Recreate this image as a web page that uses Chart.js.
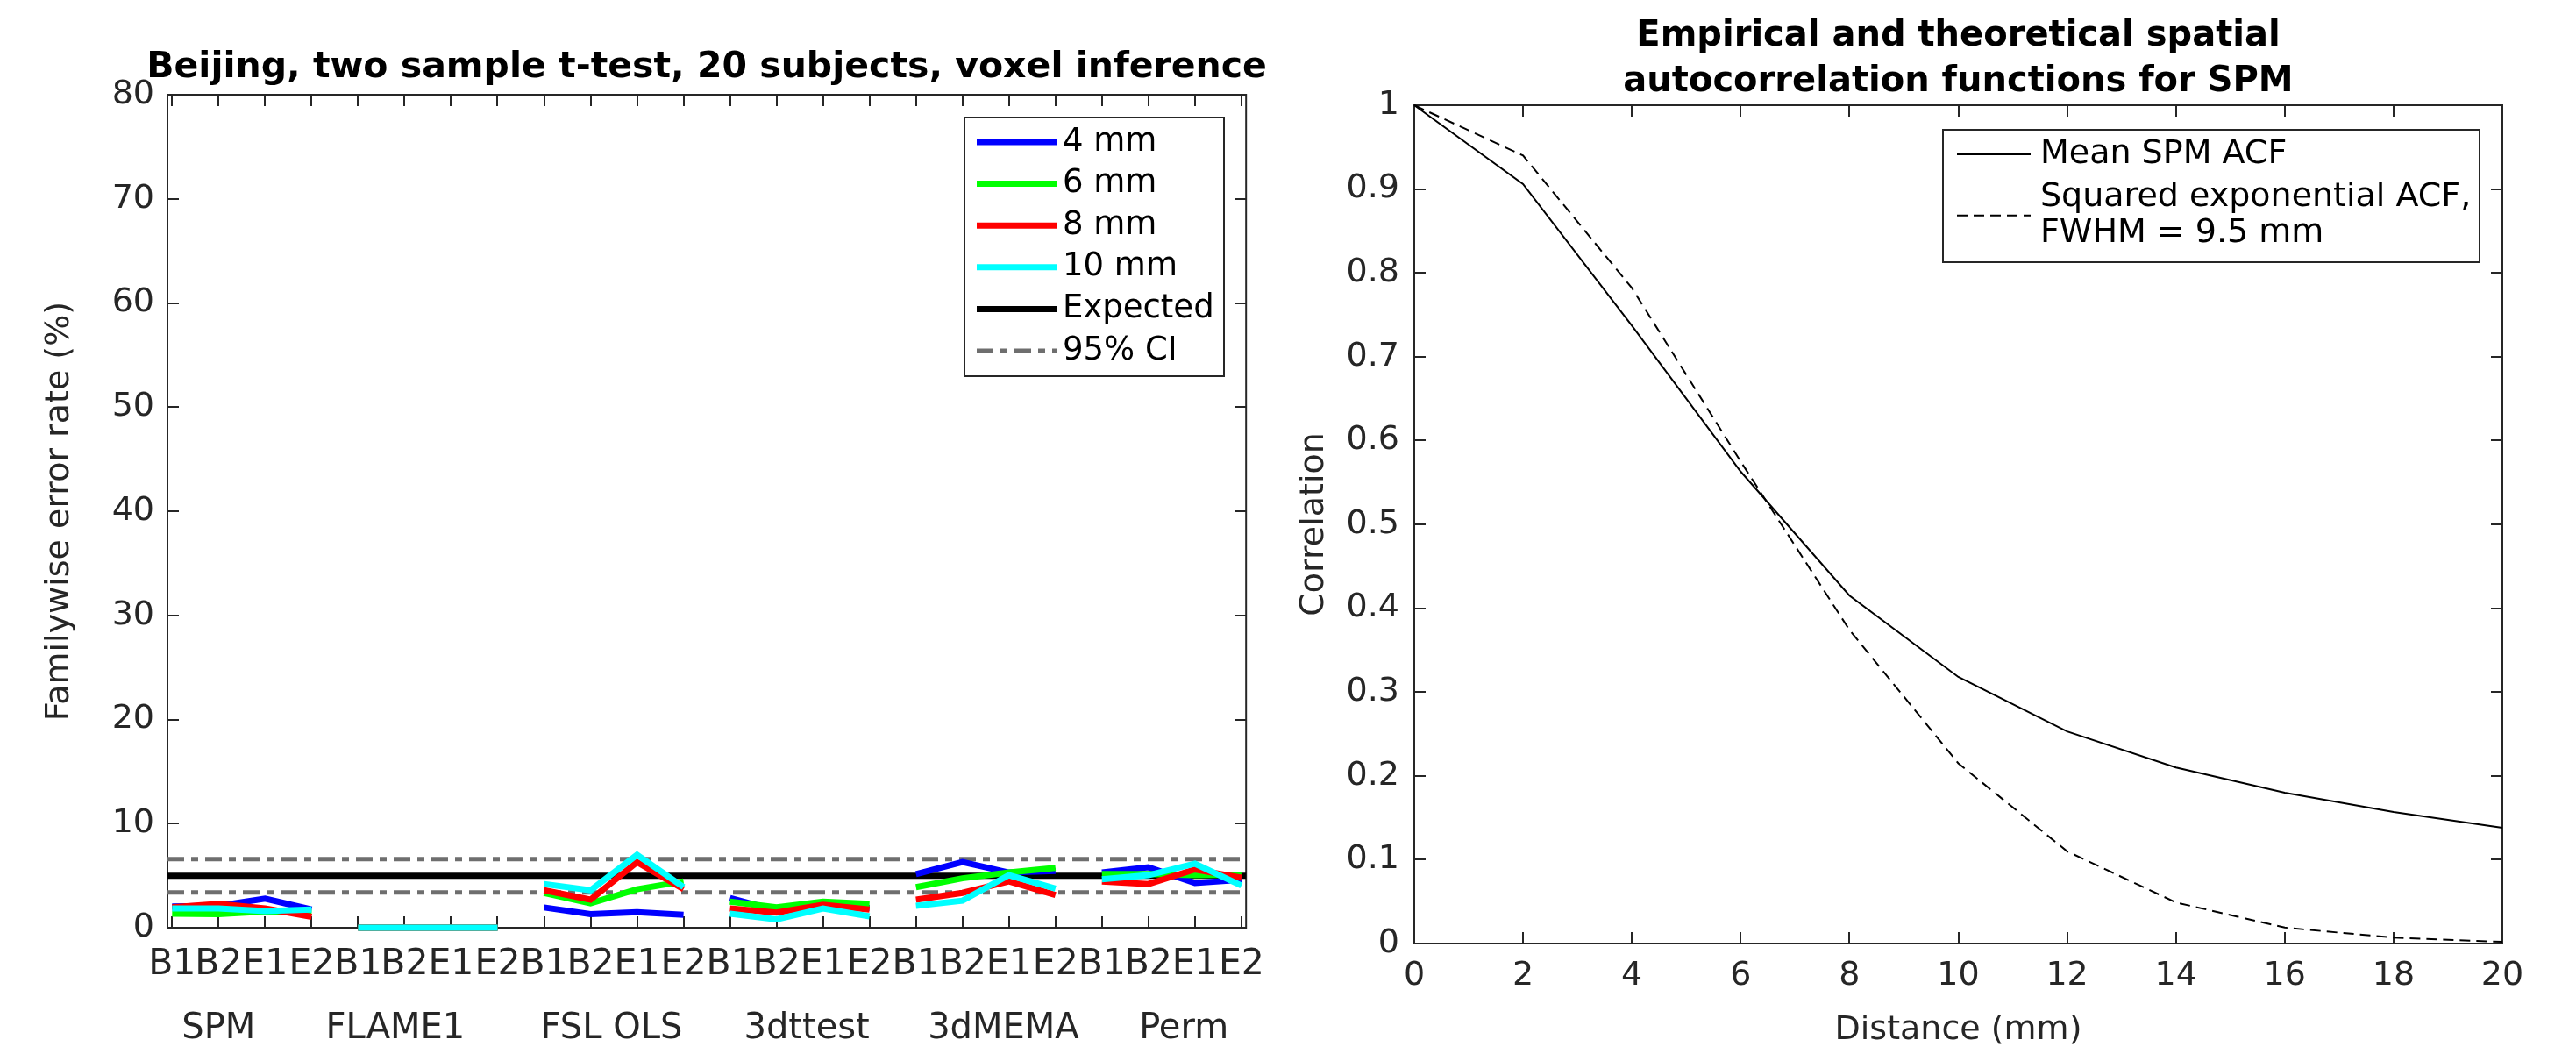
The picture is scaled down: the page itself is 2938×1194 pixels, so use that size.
<!DOCTYPE html>
<html>
<head>
<meta charset="utf-8">
<title>Familywise error rates and spatial ACF</title>
<script src="https://cdn.jsdelivr.net/npm/chart.js@4.4.1/dist/chart.umd.min.js"></script>
<style>
html, body { margin: 0; padding: 0; background: #fff; }
body { width: 2938px; height: 1194px; position: relative; overflow: hidden; }
canvas { position: absolute; top: 0; }
#fwe { left: 0; }
#acf { left: 1460px; }
</style>
</head>
<body>
<canvas id="fwe" width="1460" height="1194"></canvas>
<canvas id="acf" width="1478" height="1194"></canvas>
<script>
// left panel: Beijing, two sample t-test, 20 subjects, voxel inference
const groups = ['SPM', 'FLAME1', 'FSL OLS', '3dttest', '3dMEMA', 'Perm'];
const conditions = ['B1', 'B2', 'E1', 'E2'];
const smoothing = ['4 mm', '6 mm', '8 mm', '10 mm'];
// familywise error rate (%), 4 conditions per software package
const fwe4mm  = [2.05, 2.1, 2.8, 1.75,  0, 0, 0, 0,  1.95, 1.3, 1.5, 1.25,  2.85, 1.65, 2.2, 1.9,  5.15, 6.3, 5.3, 5.45,  5.3, 5.8, 4.3, 4.6];
const fwe6mm  = [1.35, 1.3, 1.55, 1.45,  0, 0, 0, 0,  3.35, 2.35, 3.7, 4.45,  2.5, 1.95, 2.5, 2.3,  3.9, 4.75, 5.3, 5.75,  5.15, 5.15, 5.05, 5.1];
const fwe8mm  = [1.95, 2.3, 1.85, 1.05,  0, 0, 0, 0,  3.6, 2.7, 6.3, 3.7,  1.85, 1.45, 2.2, 1.75,  2.7, 3.35, 4.45, 3.15,  4.45, 4.2, 5.6, 4.8];
const fwe10mm = [1.85, 1.85, 1.6, 1.75,  0, 0, 0, 0,  4.2, 3.6, 7.0, 3.9,  1.35, 0.8, 1.85, 1.1,  2.1, 2.6, 5.05, 3.75,  4.65, 5.05, 6.15, 4.05];
const expectedRate = 5;
const ciLow = 3.4;
const ciHigh = 6.6;
const fweTicks = [0, 10, 20, 30, 40, 50, 60, 70, 80];

// right panel: empirical and theoretical ACF
const distance = [0, 2, 4, 6, 8, 10, 12, 14, 16, 18, 20];
const meanSpmAcf = [1, 0.906, 0.737, 0.563, 0.415, 0.318, 0.253, 0.21, 0.18, 0.157, 0.138];
const sqExpAcf = [1, 0.94, 0.782, 0.575, 0.374, 0.215, 0.11, 0.049, 0.019, 0.007, 0.002];
const corrTicks = [0, 0.1, 0.2, 0.3, 0.4, 0.5, 0.6, 0.7, 0.8, 0.9, 1];
const distTicks = [0, 2, 4, 6, 8, 10, 12, 14, 16, 18, 20];

const axisColor = '#262626';
const fontFamily = '"DejaVu Sans", sans-serif';

// x positions 1..24 of the conditions, axis runs a bit past them like matlab
const xPos = [];
groups.forEach((g, gi) => conditions.forEach((c, ci) => xPos.push(gi * conditions.length + ci + 1)));
const xLo = 0.9, xHi = xPos.length + 0.1;
// where the package names sit under the tick labels (x units)
const groupLabelAt = [2.0, 5.8, 10.45, 14.65, 18.88, 22.76];

function pts(vals) { return vals.map((v, i) => ({x: xPos[i], y: v})); }
function flat(v) { return [{x: xLo, y: v}, {x: xHi, y: v}]; }
// don't join the last condition of one package to the next package
const breakGroups = { borderColor: c => (c.p0DataIndex % conditions.length === conditions.length - 1) ? 'rgba(0,0,0,0)' : undefined };

// matlab style box: frame, inward ticks on all sides, boxed legend
const matlabAxes = {
  id: 'matlabAxes',
  beforeDatasetsDraw(chart, args, o) {
    const {ctx, chartArea: a, scales} = chart;
    ctx.save();
    ctx.strokeStyle = axisColor;
    ctx.lineWidth = 2;
    ctx.beginPath();
    scales.x.ticks.forEach(t => {
      const px = Math.round(scales.x.getPixelForValue(t.value));
      ctx.moveTo(px, a.bottom); ctx.lineTo(px, a.bottom - o.tickLen);
      ctx.moveTo(px, a.top); ctx.lineTo(px, a.top + o.tickLen);
    });
    scales.y.ticks.forEach(t => {
      const py = Math.round(scales.y.getPixelForValue(t.value));
      ctx.moveTo(a.left, py); ctx.lineTo(a.left + o.tickLen, py);
      ctx.moveTo(a.right, py); ctx.lineTo(a.right - o.tickLen, py);
    });
    ctx.stroke();
    ctx.strokeRect(a.left, a.top, a.right - a.left, a.bottom - a.top);
    ctx.restore();
  },
  afterDatasetsDraw(chart, args, o) {
    const L = o.legend;
    if (!L) return;
    const {ctx, chartArea: a} = chart;
    const entries = chart.data.datasets.filter(d => !d.hideInLegend);
    ctx.save();
    ctx.font = L.font;
    let textW = 0;
    entries.forEach(d => [].concat(d.label).forEach(s => { textW = Math.max(textW, ctx.measureText(s).width); }));
    const right = Math.round(a.right - L.gapRight);
    const left = Math.round(right - (L.textX + textW + L.padRight));
    const top = Math.round(a.top + L.gapTop);
    let cy = L.firstRow;
    const rows = [];
    entries.forEach(d => {
      const lines = [].concat(d.label);
      rows.push({d, lines, y0: cy});
      cy += (lines.length - 1) * L.lineStep + L.rowStep;
    });
    const last = rows[rows.length - 1];
    const height = Math.round(last.y0 + (last.lines.length - 1) * L.lineStep + L.padBottom);
    ctx.fillStyle = '#fff';
    ctx.fillRect(left, top, right - left, height);
    ctx.strokeStyle = axisColor;
    ctx.lineWidth = 2;
    ctx.strokeRect(left, top, right - left, height);
    rows.forEach(r => {
      const ym = top + r.y0 + (r.lines.length - 1) * L.lineStep / 2;
      ctx.save();
      ctx.strokeStyle = r.d.borderColor;
      ctx.lineWidth = r.d.borderWidth;
      ctx.setLineDash(r.d.borderDash || []);
      ctx.beginPath();
      ctx.moveTo(left + L.sampleX0, ym);
      ctx.lineTo(left + L.sampleX1, ym);
      ctx.stroke();
      ctx.restore();
      ctx.fillStyle = '#000';
      ctx.textAlign = 'left';
      ctx.textBaseline = 'middle';
      r.lines.forEach((s, j) => ctx.fillText(s, left + L.textX, top + r.y0 + j * L.lineStep));
    });
    ctx.restore();
  },
  afterDraw(chart, args, o) {
    const {ctx, chartArea: a, scales} = chart;
    const G = o.groupLabels;
    if (G) {
      ctx.save();
      ctx.font = G.font;
      ctx.fillStyle = axisColor;
      ctx.textAlign = 'center';
      ctx.textBaseline = 'middle';
      G.text.forEach((s, i) => ctx.fillText(s, scales.x.getPixelForValue(G.at[i]), a.bottom + G.dy));
      ctx.restore();
    }
    // heading wider than the plot box, so not squeezed into it like the title plugin does
    const H = o.heading;
    if (H) {
      ctx.save();
      ctx.font = H.font;
      ctx.fillStyle = '#000';
      ctx.textAlign = 'center';
      ctx.textBaseline = 'middle';
      ctx.fillText(H.text, (a.left + a.right) / 2, H.y);
      ctx.restore();
    }
  }
};

function tickFont(size) { return {family: fontFamily, size: size}; }

// ---------- left chart ----------
const seriesColors = ['#0000ff', '#00ff00', '#ff0000', '#00ffff'];
const seriesVals = [fwe4mm, fwe6mm, fwe8mm, fwe10mm];
const fweSets = smoothing.map((lab, i) => ({
  label: lab,
  data: pts(seriesVals[i]),
  borderColor: seriesColors[i],
  borderWidth: 7,
  pointRadius: 0,
  segment: breakGroups,
  order: 3 - i,
  clip: false
}));
fweSets.push({label: 'Expected', data: flat(expectedRate), borderColor: '#000', borderWidth: 7, pointRadius: 0, order: 5, clip: false});
fweSets.push({label: '95% CI', data: flat(ciLow), borderColor: '#6e6e6e', borderWidth: 5, borderDash: [19, 8, 8, 8], pointRadius: 0, order: 6, clip: false});
fweSets.push({label: '95% CI', hideInLegend: true, data: flat(ciHigh), borderColor: '#6e6e6e', borderWidth: 5, borderDash: [19, 8, 8, 8], pointRadius: 0, order: 6, clip: false});

new Chart(document.getElementById('fwe'), {
  type: 'line',
  data: { datasets: fweSets },
  options: {
    responsive: false,
    animation: false,
    devicePixelRatio: 1,
    layout: { padding: { left: 0, right: 28, top: 108, bottom: 0 } },
    plugins: {
      legend: { display: false },
      tooltip: { enabled: false },
      title: { display: false },
      matlabAxes: {
        tickLen: 13,
        heading: { text: 'Beijing, two sample t-test, 20 subjects, voxel inference', font: 'bold 41px ' + fontFamily, y: 77 },
        legend: { font: '37px ' + fontFamily, gapRight: 25, gapTop: 26, firstRow: 28, rowStep: 47.6, lineStep: 47.6,
                  sampleX0: 14, sampleX1: 106, textX: 112, padRight: 11, padBottom: 29 },
        groupLabels: { text: groups, at: groupLabelAt, dy: 116, font: '40px ' + fontFamily }
      }
    },
    scales: {
      x: {
        type: 'linear',
        min: xLo,
        max: xHi,
        afterBuildTicks: s => { s.ticks = xPos.map(v => ({value: v})); },
        afterFit: s => { s.height = 136; },
        grid: { display: false, drawTicks: false },
        border: { display: false },
        ticks: {
          autoSkip: false, maxRotation: 0, minRotation: 0, padding: 18,
          color: axisColor, font: tickFont(41),
          callback: v => conditions[(Math.round(v) - 1) % conditions.length]
        }
      },
      y: {
        min: fweTicks[0],
        max: fweTicks[fweTicks.length - 1],
        afterBuildTicks: s => { s.ticks = fweTicks.map(v => ({value: v})); },
        afterFit: s => { s.width = 191; },
        grid: { display: false, drawTicks: false },
        border: { display: false },
        ticks: { padding: 15, color: axisColor, font: tickFont(38) },
        title: { display: true, text: 'Familywise error rate (%)', color: axisColor, font: { family: fontFamily, size: 38, lineHeight: 1.2 }, padding: { top: 45, bottom: 0 } }
      }
    }
  },
  plugins: [matlabAxes]
});

// ---------- right chart ----------
new Chart(document.getElementById('acf'), {
  type: 'line',
  data: {
    datasets: [
      { label: 'Mean SPM ACF', data: distance.map((d, i) => ({x: d, y: meanSpmAcf[i]})), borderColor: '#000', borderWidth: 2, pointRadius: 0, clip: false },
      { label: ['Squared exponential ACF,', 'FWHM = 9.5 mm'], data: distance.map((d, i) => ({x: d, y: sqExpAcf[i]})), borderColor: '#000', borderWidth: 2, borderDash: [12, 7], pointRadius: 0, clip: false }
    ]
  },
  options: {
    responsive: false,
    animation: false,
    devicePixelRatio: 1,
    layout: { padding: { left: 0, right: 84, top: 0, bottom: 0 } },
    plugins: {
      legend: { display: false },
      tooltip: { enabled: false },
      title: {
        display: true,
        fullSize: false,
        text: ['Empirical and theoretical spatial', 'autocorrelation functions for SPM'],
        color: '#000',
        font: { family: fontFamily, size: 40, weight: 'bold', lineHeight: 1.3 },
        padding: { top: 16, bottom: 0 }
      },
      matlabAxes: {
        tickLen: 13,
        legend: { font: '38px ' + fontFamily, gapRight: 26, gapTop: 28, firstRow: 28, rowStep: 49, lineStep: 41.6,
                  sampleX0: 16, sampleX1: 100, textX: 111, padRight: 10, padBottom: 32 }
      }
    },
    scales: {
      x: {
        type: 'linear',
        min: distTicks[0],
        max: distTicks[distTicks.length - 1],
        afterBuildTicks: s => { s.ticks = distTicks.map(v => ({value: v})); },
        afterFit: s => { s.height = 118; },
        grid: { display: false, drawTicks: false },
        border: { display: false },
        ticks: { autoSkip: false, maxRotation: 0, minRotation: 0, padding: 14, color: axisColor, font: tickFont(38) },
        title: { display: true, text: 'Distance (mm)', color: axisColor, font: { family: fontFamily, size: 38, lineHeight: 1.0 }, padding: { top: 0, bottom: 0 } }
      },
      y: {
        min: corrTicks[0],
        max: corrTicks[corrTicks.length - 1],
        afterBuildTicks: s => { s.ticks = corrTicks.map(v => ({value: v})); },
        afterFit: s => { s.width = 153; },
        grid: { display: false, drawTicks: false },
        border: { display: false },
        ticks: { padding: 17, color: axisColor, font: tickFont(38), callback: v => String(Math.round(v * 10) / 10) },
        title: { display: true, text: 'Correlation', color: axisColor, font: { family: fontFamily, size: 38, lineHeight: 1.2 }, padding: { top: 16, bottom: 0 } }
      }
    }
  },
  plugins: [matlabAxes]
});
</script>
</body>
</html>
